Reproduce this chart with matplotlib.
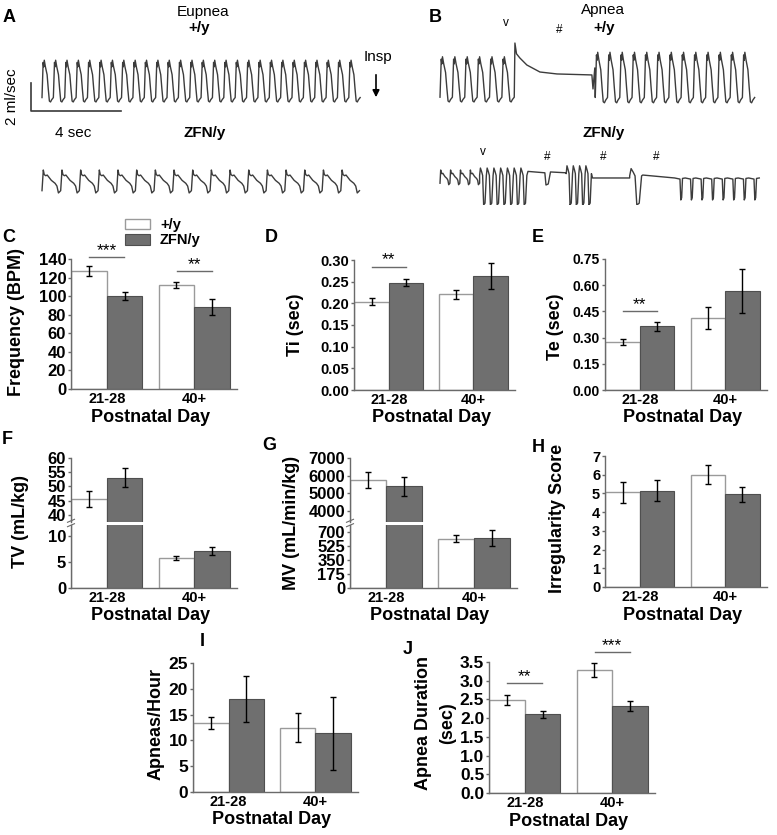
import numpy as np
import matplotlib
matplotlib.use("Agg")
import matplotlib.pyplot as plt
from matplotlib.patches import Patch
from matplotlib import transforms

plt.rcParams['font.family'] = ['Liberation Sans', 'DejaVu Sans']
plt.rcParams['font.weight'] = 'bold'

# ---------------- data ----------------
groups = ['21-28', '40+']
genotypes = ['+/y', 'ZFN/y']

freq_wt = [127, 112];    freq_wt_err = [5.4, 2.7]
freq_zfn = [100.4, 88];  freq_zfn_err = [4.5, 8.5]
ti_wt = [0.204, 0.221];  ti_wt_err = [0.008, 0.010]
ti_zfn = [0.248, 0.263]; ti_zfn_err = [0.009, 0.029]
te_wt = [0.275, 0.412];  te_wt_err = [0.017, 0.063]
te_zfn = [0.366, 0.567]; te_zfn_err = [0.026, 0.128]
tv_wt = [45.5, 5.7];     tv_wt_err = [2.9, 0.45]
tv_zfn = [53.1, 7.1];    tv_zfn_err = [3.2, 0.8]
mv_wt = [5740, 612];     mv_wt_err = [445, 45]
mv_zfn = [5390, 625];    mv_zfn_err = [530, 100]
irr_wt = [5.05, 6.0];    irr_wt_err = [0.55, 0.52]
irr_zfn = [5.15, 4.95];  irr_zfn_err = [0.57, 0.42]
apn_wt = [13.3, 12.5];   apn_wt_err = [1.15, 2.8]
apn_zfn = [18.0, 11.4];  apn_zfn_err = [4.5, 7.05]
dur_wt = [2.49, 3.28];   dur_wt_err = [0.13, 0.18]
dur_zfn = [2.10, 2.33];  dur_zfn_err = [0.09, 0.13]

# breath waveform templates (phase 0..1, normalised flow 0..1)
wt_phase = [0.0, 0.10, 0.15, 0.20, 0.30, 0.45, 0.55, 0.65, 0.75, 0.85, 1.0]
wt_shape = [0.10, 0.90, 0.80, 0.95, 0.80, 0.62, 0.30, 0.02, 0.0, 0.05, 0.10]
zfn_phase = [0.0, 0.07, 0.12, 0.20, 0.28, 0.50, 0.70, 0.80, 0.88, 1.0]
zfn_shape = [0.10, 1.0, 0.80, 0.75, 0.78, 0.55, 0.42, 0.30, 0.0, 0.10]
deep_phase = [0.0, 0.12, 0.30, 0.45, 0.60, 0.80, 1.0]
deep_shape = [0.80, 1.0, 0.90, 0.80, 0.0, 0.05, 0.80]
flat_phase = [0.0, 0.50, 0.58, 0.66, 0.74, 1.0]
flat_shape = [1.0, 0.95, 0.0, 0.10, 0.98, 1.0]
apnea_wt_path = [(0.03, 11.57), (0.10, 10.80), (0.25, 10.50), (0.56, 10.0), (1.14, 9.5),
                 (1.90, 9.36), (3.45, 9.29), (3.50, 8.29), (3.58, 9.79)]

W, H = 777, 835
fig = plt.figure(figsize=(W / 100, H / 100), dpi=100)

GREY = '#6f6f6f'
EDGE_G = '#4f4f4f'
EDGE_W = '#9a9a9a'
SPINE = '#6a6a6a'
BW = 0.405
XL = (-0.41, 1.49)


def add_ax(l, t, r, b):
    return fig.add_axes([l / W, 1 - b / H, (r - l) / W, (b - t) / H])


def ftext(x, y, s, **kw):
    kw.setdefault('ha', 'center')
    kw.setdefault('va', 'center')
    return fig.text(x / W, 1 - y / H, s, **kw)


def style(ax, ticks, fmt, show_x=True, ysize=10.5):
    for s in ['top', 'right']:
        ax.spines[s].set_visible(False)
    for s in ['left', 'bottom']:
        ax.spines[s].set_color(SPINE)
        ax.spines[s].set_linewidth(1.0)
    ax.set_yticks(ticks)
    ax.set_yticklabels([fmt.format(t) for t in ticks])
    ax.tick_params(axis='y', length=2.5, width=1, color=SPINE, pad=1, labelsize=ysize)
    ax.set_xlim(*XL)
    ax.set_xticks([0, 1])
    if show_x:
        ax.set_xticklabels(groups)
        ax.tick_params(axis='x', length=0, pad=2, labelsize=10.5)
    else:
        ax.set_xticklabels([])
        ax.tick_params(axis='x', length=0)


def bars(ax, wt, wte, zf, zfe):
    x = np.arange(len(groups))
    ek = dict(ecolor='black', elinewidth=1, capsize=2.5, capthick=1)
    ax.bar(x - BW / 2, wt, BW, color='white', edgecolor=EDGE_W, linewidth=1,
           yerr=wte, error_kw=ek, label=genotypes[0])
    ax.bar(x + BW / 2, zf, BW, color=GREY, edgecolor=EDGE_G, linewidth=0.8,
           yerr=zfe, error_kw=ek, label=genotypes[1])


def xlabel(ax, off=-28):
    tr = transforms.blended_transform_factory(ax.transData, ax.transAxes)
    ax.annotate('Postnatal Day', xy=(0.5, 0), xycoords=tr, xytext=(0, off),
                textcoords='offset pixels', ha='center', va='center', fontsize=13,
                annotation_clip=False)


def sig(ax, x, y, s):
    ax.plot([x - 0.2, x + 0.2], [y, y], color=SPINE, lw=1, clip_on=False)
    ax.annotate(s, xy=(x, y), xytext=(0, -1), textcoords='offset pixels',
                ha='center', va='bottom', fontsize=12.5, fontweight='normal',
                annotation_clip=False)


def simple_panel(box, wt, wte, zf, zfe, ylim, ticks, fmt, sigs=(), ysize=10.5):
    ax = add_ax(*box)
    bars(ax, wt, wte, zf, zfe)
    ax.set_ylim(*ylim)
    style(ax, ticks, fmt, ysize=ysize)
    xlabel(ax)
    for (x, y, s) in sigs:
        sig(ax, x, y, s)
    return ax


def broken_panel(l, r, top, brk, bot, up_lim, lo_lim, up_ticks, lo_ticks, wt, wte, zf, zfe,
                 fmt='{:g}', ysize=12):
    axu = add_ax(l, top, r, brk - 1.5)
    axl = add_ax(l, brk + 1.5, r, bot)
    for a in (axu, axl):
        bars(a, wt, wte, zf, zfe)
    axu.set_ylim(*up_lim)
    axl.set_ylim(*lo_lim)
    style(axu, up_ticks, fmt, show_x=False, ysize=ysize)
    style(axl, lo_ticks, fmt, ysize=ysize)
    axu.spines['bottom'].set_visible(False)
    # break marks
    d = 3.5
    for yy in (brk - 2.2, brk + 2.2):
        fig.add_artist(plt.Line2D([(l - d) / W, (l + d) / W],
                                  [1 - (yy + 1.5) / H, 1 - (yy - 1.5) / H],
                                  color=SPINE, lw=0.8))
    xlabel(axl)
    return axu, axl


# ---------------- traces (A, B) ----------------
axt = fig.add_axes([0, 1 - 205 / H, 1, 205 / H])
PX_S = 22.5   # px per second
PX_F = 14.0   # px per ml/sec
axt.set_xlim(0, W / PX_S)
axt.set_ylim(0, 205 / PX_F)
axt.axis('off')


def breaths(t0, n, period, trough, amp, ph, sh):
    ph = np.asarray(ph); sh = np.asarray(sh)
    ts, ys = [], []
    for i in range(n):
        ts.extend(t0 + (i + ph[:-1]) * period)
        ys.extend(trough + amp * sh[:-1])
    ts.append(t0 + n * period)
    ys.append(trough + amp * sh[-1])
    return list(ts), list(ys)


TR = dict(color='#3c3c3c', lw=1.0)
# A +/y eupnea
t, y = breaths(42 / PX_S, 28, 0.505, 7.36, 3.14, wt_phase, wt_shape)
axt.plot(t, y, **TR)
# A ZFN/y eupnea
t, y = breaths(42 / PX_S, 17, 0.83, 0.86, 1.64, zfn_phase, zfn_shape)
axt.plot(t, y, **TR)

# B +/y apnea
t1, y1 = breaths(440 / PX_S, 6, 0.55, 7.36, 3.4, wt_phase, wt_shape)
tb = t1[-1]
t2 = [tb + dt for dt, _ in apnea_wt_path]
y2 = [v for _, v in apnea_wt_path]
t3, y3 = breaths(t2[-1] + 0.02, 13, 0.545, 7.3, 3.8, wt_phase, wt_shape)
axt.plot(t1 + t2 + t3, y1 + y2 + y3, **TR)

# B ZFN/y apnea
templates = {'zfn': (zfn_phase, zfn_shape), 'deep': (deep_phase, deep_shape),
             'flat': (flat_phase, flat_shape)}
zfn_apnea_pieces = [
    ('breath', 4, 0.44, 1.45, 1.05, 'zfn'),
    ('breath', 7, 0.30, 0.0, 2.64, 'deep'),
    ('path', [(0.05, 2.40), (0.80, 2.30), (0.85, 1.43), (0.95, 1.50), (1.05, 2.36), (1.75, 2.30)]),
    ('breath', 4, 0.28, 0.0, 2.80, 'deep'),
    ('path', [(0.05, 1.93), (1.70, 1.93)]),
    ('breath', 1, 0.53, 0.0, 2.60, 'deep'),
    ('path', [(0.05, 2.14), (1.47, 1.93)]),
    ('breath', 8, 0.47, 0.36, 1.57, 'flat'),
]
tt, yy = [], []
cur = 440 / PX_S
for piece in zfn_apnea_pieces:
    if piece[0] == 'breath':
        _, n, per, tr, amp, name = piece
        ph, sh = templates[name]
        a, b = breaths(cur, n, per, tr, amp, ph, sh)
        tt += a; yy += b
        cur = a[-1]
    else:
        for dt, v in piece[1]:
            tt.append(cur + dt); yy.append(v)
        cur = tt[-1]
axt.plot(tt, yy, **TR)

# scale bar
axt.plot([31 / PX_S, 31 / PX_S, 31 / PX_S + 4], [6.71 + 2, 6.71, 6.71], color='#3a3a3a', lw=1.2)
axt.annotate('', xy=(376 / PX_S, 7.5), xytext=(376 / PX_S, 9.5),
             arrowprops=dict(arrowstyle='-|>', color='black', lw=1.2, mutation_scale=10))

ftext(203, 12, 'Eupnea', fontsize=11, fontweight='normal')
ftext(199, 28, '+/y', fontsize=11)
ftext(205, 133, 'ZFN/y', fontsize=11)
ftext(378, 57, 'Insp', fontsize=11, fontweight='normal')
ftext(73, 133, '4 sec', fontsize=11, fontweight='normal')
ftext(12, 97, '2 ml/sec', fontsize=11, fontweight='normal', rotation=90)
ftext(603, 10, 'Apnea', fontsize=11, fontweight='normal')
ftext(604, 28, '+/y', fontsize=11)
ftext(604, 133, 'ZFN/y', fontsize=11)
for (xx, yv, s) in [(506, 23, 'v'), (559, 30, '#'), (483, 152, 'v'),
                    (547, 157, '#'), (603, 157, '#'), (656, 157, '#')]:
    ftext(xx, yv, s, fontsize=8.5, fontweight='normal')

# ---------------- bar panels ----------------
axC = simple_panel((71, 259, 237, 389), freq_wt, freq_wt_err, freq_zfn, freq_zfn_err,
                   (0, 140), list(range(0, 141, 20)), '{:d}',
                   sigs=[(0, 142, '***'), (1, 127, '**')], ysize=12)
axD = simple_panel((354, 260, 515, 390), ti_wt, ti_wt_err, ti_zfn, ti_zfn_err,
                   (0, 0.30), [0, 0.05, 0.10, 0.15, 0.20, 0.25, 0.30], '{:.2f}',
                   sigs=[(0, 0.285, '**')], ysize=10.5)
axE = simple_panel((605, 259, 767, 390), te_wt, te_wt_err, te_zfn, te_zfn_err,
                   (0, 0.75), [0, 0.15, 0.30, 0.45, 0.60, 0.75], '{:.2f}',
                   sigs=[(0, 0.45, '**')], ysize=10)
broken_panel(71, 237, 458, 523, 588, (37.6, 60), (0, 12.1), [40, 45, 50, 55, 60], [0, 5, 10],
             tv_wt, tv_wt_err, tv_zfn, tv_zfn_err, ysize=12)
broken_panel(350, 517, 458, 523, 588, (3390, 7000), (0, 787), [4000, 5000, 6000, 7000],
             [0, 175, 350, 525, 700], mv_wt, mv_wt_err, mv_zfn, mv_zfn_err, ysize=12)
axH = simple_panel((605, 456, 767, 587), irr_wt, irr_wt_err, irr_zfn, irr_zfn_err,
                   (0, 7), list(range(0, 8)), '{:d}', ysize=10.5)
axI = simple_panel((193, 663, 358, 792), apn_wt, apn_wt_err, apn_zfn, apn_zfn_err,
                   (0, 25), list(range(0, 26, 5)), '{:d}', ysize=12.5)
axJ = simple_panel((489, 662, 655, 793), dur_wt, dur_wt_err, dur_zfn, dur_zfn_err,
                   (0, 3.5), [0, 0.5, 1.0, 1.5, 2.0, 2.5, 3.0, 3.5], '{:.1f}',
                   sigs=[(0, 2.93, '**'), (1, 3.76, '***')], ysize=12.5)

# legend in C
handles = [Patch(facecolor='white', edgecolor=EDGE_W, linewidth=1),
           Patch(facecolor=GREY, edgecolor=EDGE_G, linewidth=0.8)]
axC.legend(handles, genotypes, loc='upper left', bbox_to_anchor=(125 / W, 1 - 218 / H),
           bbox_transform=fig.transFigure, frameon=False, fontsize=10.5, borderpad=0,
           borderaxespad=0, handlelength=1.7, handleheight=0.75, handletextpad=0.7,
           labelspacing=0.1)

# y labels
ftext(17, 322, 'Frequency (BPM)', fontsize=13, rotation=90)
ftext(295, 325, 'Ti (sec)', fontsize=13, rotation=90)
ftext(555, 327, 'Te (sec)', fontsize=13, rotation=90)
ftext(21, 522, 'TV (mL/kg)', fontsize=13, rotation=90)
ftext(291, 523, 'MV (mL/min/kg)', fontsize=13, rotation=90)
ftext(557, 518, 'Irregularity Score', fontsize=13, rotation=90)
ftext(156, 724, 'Apneas/Hour', fontsize=13, rotation=90)
ftext(424, 723, 'Apnea Duration', fontsize=13, rotation=90)
ftext(448, 723, '(sec)', fontsize=13, rotation=90)

# panel letters
for (xx, yv, s) in [(3, 18, 'A'), (429, 18, 'B'), (2, 238, 'C'), (265, 238, 'D'),
                    (532, 238, 'E'), (2, 439, 'F'), (262, 445, 'G'), (532, 447, 'H'),
                    (200, 641, 'I'), (403, 649, 'J')]:
    ftext(xx, yv, s, fontsize=13, ha='left')

fig.savefig('out.png', dpi=100)
